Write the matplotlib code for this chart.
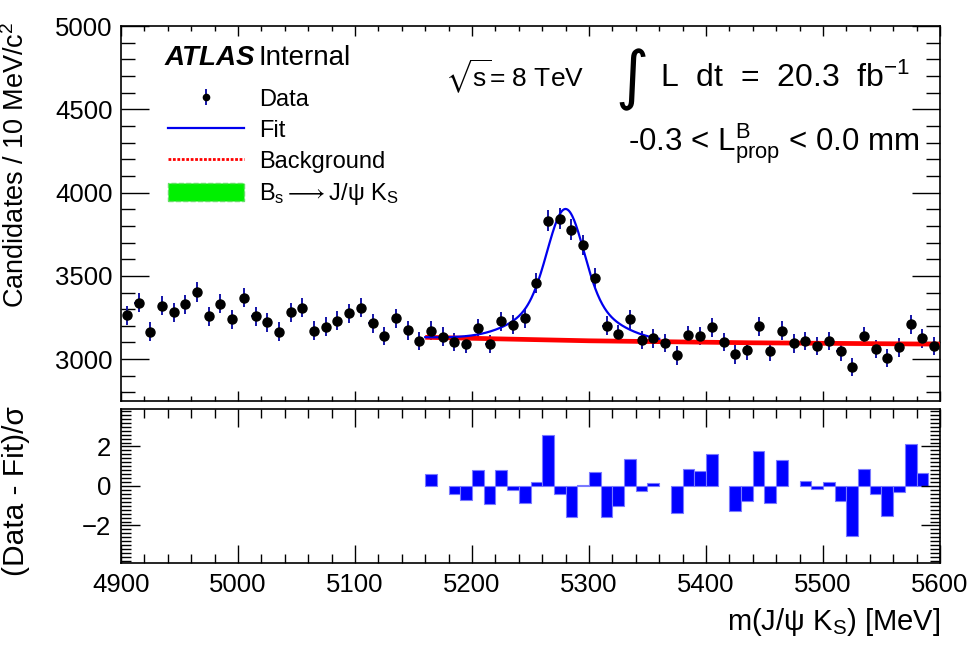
import numpy as np
import matplotlib.pyplot as plt
from matplotlib.lines import Line2D
from matplotlib.patches import Patch
from matplotlib.legend_handler import HandlerTuple
from matplotlib.ticker import MultipleLocator

plt.rcParams['font.family'] = ['Liberation Sans', 'DejaVu Sans']
plt.rcParams['mathtext.fontset'] = 'custom'
plt.rcParams['mathtext.rm'] = 'Liberation Sans'
plt.rcParams['mathtext.it'] = 'Liberation Sans:italic'
plt.rcParams['mathtext.bf'] = 'Liberation Sans:bold'
plt.rcParams['mathtext.fallback'] = 'stixsans'

# data, 10 MeV bins from 4900 to 5600
bin_centers = np.arange(4905, 5600, 10)
counts = [3264, 3338, 3164, 3320, 3282, 3330, 3402, 3256, 3332, 3238,
          3370, 3256, 3220, 3164, 3282, 3308, 3170, 3194, 3230, 3274,
          3308, 3214, 3138, 3244, 3174, 3108, 3170, 3134, 3104, 3090,
          3184, 3092, 3226, 3206, 3246, 3456, 3832, 3844, 3778, 3684,
          3490, 3200, 3150, 3238, 3114, 3124, 3098, 3022, 3144, 3138,
          3190, 3102, 3028, 3052, 3196, 3046, 3170, 3094, 3108, 3080,
          3108, 3046, 2950, 3138, 3062, 3006, 3070, 3208, 3124, 3078]

# background component (red), read at a few masses
bkg_mass = [5160, 5300, 5440, 5600]
bkg_val = [3131, 3110, 3098, 3090]

# fit curve: signal parameters
fit_lo, fit_hi = 5160, 5360
peak_mean = 5280
peak_amp = 789
core_sigma, wide_sigma, core_frac = 15, 35, 0.7

# pulls, 10 MeV bins starting at 5160
pull_edges = np.arange(5160, 5600, 10)
pulls = [0.59, 0, -0.39, -0.73, 0.79, -0.93, 0.79, -0.19, -0.88, 0.22,
         2.58, -0.39, -1.57, 0.07, 0.69, -1.57, -1.0, 1.38, -0.24, 0.17,
         0, -1.35, 0.84, 0.74, 1.64, 0, -1.25, -0.78, 1.76, -0.88,
         1.33, 0, 0.27, -0.14, 0.22, -0.78, -2.55, 0.84, -0.39, -1.5,
         -0.3, 2.11, 0.64, 0]

fig = plt.figure(figsize=(9.76, 6.48), dpi=100)
ax = fig.add_axes([0.124, 0.3816, 0.8391, 0.578])
ax2 = fig.add_axes([0.124, 0.1312, 0.8391, 0.2377])

# top pad
counts = np.array(counts, dtype=float)
ax.errorbar(bin_centers, counts, yerr=np.sqrt(counts), xerr=3.5,
            fmt='none', ecolor='#1414a8', elinewidth=1.4, zorder=2)
ax.plot(bin_centers, counts, 'o', color='black', markersize=6.5, zorder=4)

ax.plot(bkg_mass, bkg_val, color='red', lw=3.4, solid_capstyle='butt', zorder=3)
xf = np.linspace(fit_lo, fit_hi, 400)
d = xf - peak_mean
shape = (core_frac * np.exp(-0.5 * (d / core_sigma) ** 2)
         + (1 - core_frac) * np.exp(-0.5 * (d / wide_sigma) ** 2))
ax.plot(xf, np.interp(xf, bkg_mass, bkg_val) + peak_amp * shape,
        color='#0000ee', lw=1.6, zorder=3)

ax.set_xlim(4900, 5600)
ax.set_ylim(2750, 5000)
ax.yaxis.set_major_locator(MultipleLocator(500))
ax.yaxis.set_minor_locator(MultipleLocator(100))
ax.xaxis.set_major_locator(MultipleLocator(100))
ax.xaxis.set_minor_locator(MultipleLocator(20))
ax.tick_params(which='both', direction='in', top=True, right=True,
               labelsize=18.5, width=1, pad=6)
ax.tick_params(axis='y', which='major', length=20)
ax.tick_params(axis='y', which='minor', length=10)
ax.tick_params(axis='x', which='major', length=7, labelbottom=False)
ax.tick_params(axis='x', which='minor', length=3.5)
ax.set_ylabel(r'Candidates / 10 MeV/c$^{\mathrm{2}}$', fontsize=19.5)
ax.yaxis.set_label_coords(-0.111, 0.63)

# legend
h_data = (Line2D([], [], color='#1414a8', marker='|', markersize=12, ls='None', mew=1.4),
          Line2D([], [], color='black', marker='o', markersize=4.5, ls='None'))
h_fit = Line2D([], [], color='#0000ee', lw=1.6)
h_bkg = Line2D([], [], color='red', lw=2, ls=(0, (1, 0.6)))
h_sig = Patch(facecolor='#00f000', edgecolor='#66dd66', linestyle='--')
ax.legend([h_data, h_fit, h_bkg, h_sig],
          ['Data', 'Fit', 'Background',
           r'B$_{\mathrm{s}}\longrightarrow$J/ψ K$_{\mathrm{S}}$'],
          handler_map={tuple: HandlerTuple(ndivide=1)},
          loc='upper left', bbox_to_anchor=(0.0574, 0.835), frameon=False,
          fontsize=17, borderpad=0, borderaxespad=0, handlelength=3.2,
          handleheight=0.85, handletextpad=0.64, labelspacing=0.36)

ax.text(0.0537, 0.9146, 'ATLAS', transform=ax.transAxes, fontsize=20,
        fontweight='bold', fontstyle='italic', va='center')
ax.text(0.1673, 0.9146, 'Internal', transform=ax.transAxes, fontsize=20, va='center')
ax.text(0.3956, 0.8637, r'$\sqrt{\mathrm{s}}$= 8 TeV', transform=ax.transAxes,
        fontsize=19, va='center')
ax.text(0.624, 0.858, '∫', transform=ax.transAxes, fontsize=46, va='center',
        ha='center', family=['DejaVu Sans'])
ax.text(0.658, 0.862, r'L  dt  =  20.3  fb$^{\mathrm{-1}}$', transform=ax.transAxes,
        fontsize=23, va='center')
ax.text(0.619, 0.687, r'-0.3 < L$^{\mathrm{B}}_{\mathrm{prop}}$ < 0.0 mm',
        transform=ax.transAxes, fontsize=22.5, va='center')

# bottom pad
keep = [i for i, p in enumerate(pulls) if p != 0]
ax2.bar(pull_edges[keep], np.array(pulls)[keep], width=10, align='edge',
        color='#0000ff', edgecolor='#7a7aff', lw=0.8)
ax2.set_xlim(4900, 5600)
ax2.set_ylim(-3.9, 3.9)
ax2.yaxis.set_major_locator(MultipleLocator(2))
ax2.yaxis.set_minor_locator(MultipleLocator(0.2))
ax2.xaxis.set_major_locator(MultipleLocator(100))
ax2.xaxis.set_minor_locator(MultipleLocator(20))
ax2.tick_params(which='both', direction='in', top=True, right=True,
                labelsize=18.5, width=1, pad=7)
ax2.tick_params(axis='y', which='major', length=14)
ax2.tick_params(axis='y', which='minor', length=7)
ax2.tick_params(axis='x', which='major', length=13)
ax2.tick_params(axis='x', which='minor', length=6.5)
ax2.set_ylabel('(Data - Fit)/σ', fontsize=21.5)
ax2.yaxis.set_label_coords(-0.111, 0.47)
ax2.set_xlabel(r'm(J/ψ K$_{\mathrm{S}}$) [MeV]', fontsize=21, loc='right')
ax2.xaxis.set_label_coords(1.0, -0.28)

for a in (ax, ax2):
    for s in a.spines.values():
        s.set_linewidth(1.2)

fig.savefig('out.png', dpi=100)
